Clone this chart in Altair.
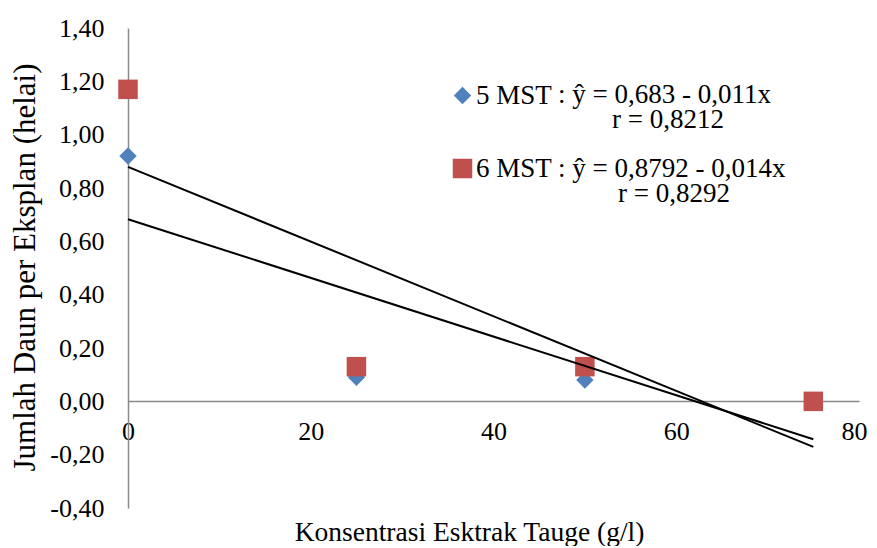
import altair as alt
import pandas as pd

# --- data ---
series_names = ["5 MST", "6 MST"]
conc = [0, 25, 50, 75]
mst5 = [0.92, 0.09, 0.08, 0.00]
mst6 = [1.17, 0.13, 0.13, 0.00]

trend_x = [0, 75]
trend5 = [0.683, -0.142]
trend6 = [0.8792, -0.171]

eq_texts = [": ŷ = 0,683 - 0,011x", "r = 0,8212", ": ŷ = 0,8792 - 0,014x", "r = 0,8292"]
eq_px = [430, 484, 430, 490]
eq_py = [75, 100, 149, 174]

y_ticks = [-0.4, -0.2, 0.0, 0.2, 0.4, 0.6, 0.8, 1.0, 1.2, 1.4]
x_ticks = [0, 20, 40, 60, 80]

colors = ["#4F81BD", "#C0504D"]
FONT = "Liberation Serif"

pts = pd.DataFrame(
    {"x": conc + conc, "y": mst5 + mst6, "series": [series_names[0]] * 4 + [series_names[1]] * 4}
)
trend = pd.DataFrame(
    {"x": trend_x + trend_x, "y": trend5 + trend6,
     "series": [series_names[0]] * 2 + [series_names[1]] * 2}
)
eq = pd.DataFrame({"t": eq_texts, "px": eq_px, "py": eq_py})

xscale = alt.Scale(domain=[0, 80], nice=False, zero=False)
yscale = alt.Scale(domain=[-0.4, 1.4], nice=False, zero=False)

y_label_expr = "(datum.value < 0 ? '-' : '') + replace(format(abs(datum.value), '.2f'), '.', ',')"

x_axis = alt.Axis(
    values=x_ticks, title="Konsentrasi Esktrak Tauge (g/l)", offset=-107,
    ticks=False, grid=False, labelFlush=False, labelPadding=17,
    labelOffset={"condition": {"test": "datum.value == 80", "value": -5}, "value": 0},
    labelFont=FONT, labelFontSize=26, labelColor="black",
    titleFont=FONT, titleFontSize=27.5, titleFontWeight="normal", titleColor="black",
    titleX=341, titleY=139, titleBaseline="alphabetic", titleAlign="center",
    domainColor="#8a8a8a", domainWidth=1.5,
)
y_axis = alt.Axis(
    values=y_ticks, labelExpr=y_label_expr, title="Jumlah Daun per Eksplan (helai)",
    ticks=False, grid=False, labelPadding=24,
    labelFont=FONT, labelFontSize=26, labelColor="black",
    titleFont=FONT, titleFontSize=31, titleFontWeight="normal", titleColor="black",
    titleX=-94, titleY=239, titleAngle=270, titleBaseline="alphabetic", titleAlign="center",
    domainColor="#8a8a8a", domainWidth=1.5,
)

points = alt.Chart(pts).mark_point(filled=True, opacity=1, strokeWidth=0).encode(
    x=alt.X("x:Q", scale=xscale, axis=x_axis),
    y=alt.Y("y:Q", scale=yscale, axis=y_axis),
    color=alt.Color("series:N", scale=alt.Scale(domain=series_names, range=colors),
                    legend=alt.Legend(title=None)),
    shape=alt.Shape("series:N", scale=alt.Scale(domain=series_names, range=["diamond", "square"]),
                    legend=alt.Legend(title=None)),
    size=alt.Size("series:N", scale=alt.Scale(domain=series_names, range=[300, 380]), legend=None),
    order=alt.Order("series:N"),
)

lines = alt.Chart(trend).mark_line(color="black", strokeWidth=2).encode(
    x=alt.X("x:Q", scale=xscale),
    y=alt.Y("y:Q", scale=yscale),
    detail="series:N",
)

texts = alt.Chart(eq).mark_text(
    align="left", baseline="alphabetic", font=FONT, fontSize=27, color="black"
).encode(
    x=alt.X("px:Q", scale=None),
    y=alt.Y("py:Q", scale=None),
    text="t:N",
)

chart = alt.layer(points, lines, texts).properties(
    width=731, height=480,
    autosize=alt.AutoSizeParams(type="none"),
    padding={"left": 120, "top": 20, "right": 10, "bottom": 38},
).configure_view(stroke=None).configure_legend(
    orient="none", legendX=321, legendY=54, padding=0, rowPadding=45,
    symbolSize=289, symbolStrokeWidth=0, labelFont=FONT, labelFontSize=27,
    labelColor="black", labelOffset=0, labelLimit=0,
)

chart.save("out.html", embed_options={"renderer": "svg", "actions": False})
